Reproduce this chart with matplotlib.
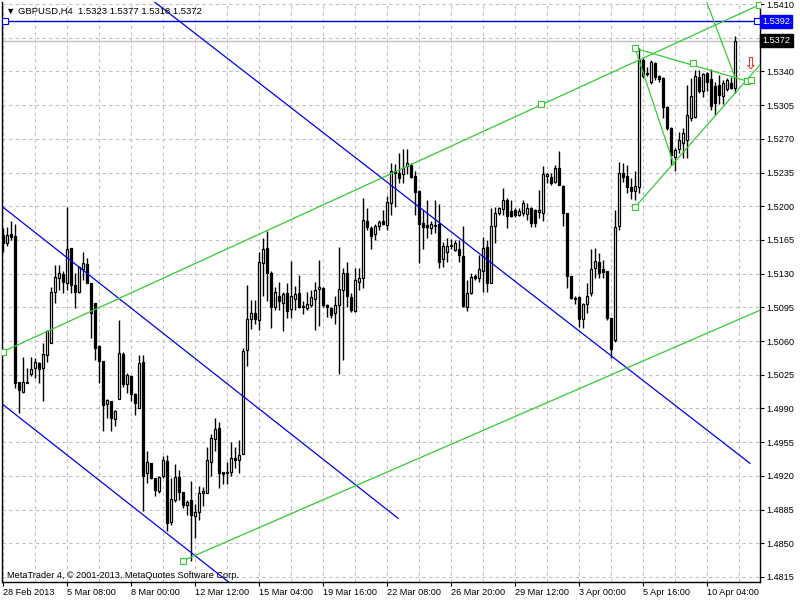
import numpy as np
import matplotlib
matplotlib.use('Agg')
import matplotlib.pyplot as plt
import matplotlib.transforms as mtransforms

plt.rcParams['font.family'] = ['Liberation Sans', 'DejaVu Sans']

# ---- chart data: GBPUSD H4, one value per bar ----
symbol = 'GBPUSD,H4'

opens = [1.5170, 1.5162, 1.5171, 1.5169, 1.5017, 1.5007, 1.5018, 1.5026, 1.5032, 1.5037,
         1.5032, 1.5046, 1.5058, 1.5111, 1.5126, 1.5130, 1.5120, 1.5157, 1.5118, 1.5111,
         1.5135, 1.5140, 1.5120, 1.5100, 1.5055, 1.5039, 1.4995, 1.4998, 1.4979, 1.5000,
         1.5047, 1.5015, 1.5024, 1.5005, 1.4990, 1.5038, 1.4923, 1.4933, 1.4918, 1.4904,
         1.4920, 1.4935, 1.4872, 1.4895, 1.4919, 1.4903, 1.4890, 1.4895, 1.4878, 1.4883,
         1.4902, 1.4902, 1.4934, 1.4958, 1.4970, 1.4924, 1.4923, 1.4924, 1.4939, 1.4936,
         1.4943, 1.5051, 1.5083, 1.5089, 1.5082, 1.5141, 1.5157, 1.5131, 1.5095, 1.5107,
         1.5100, 1.5110, 1.5093, 1.5104, 1.5110, 1.5096, 1.5094, 1.5097, 1.5104, 1.5114,
         1.5115, 1.5097, 1.5094, 1.5089, 1.5097, 1.5113, 1.5131, 1.5106, 1.5091, 1.5121,
         1.5126, 1.5185, 1.5177, 1.5171, 1.5179, 1.5185, 1.5181, 1.5203, 1.5237, 1.5235,
         1.5234, 1.5242, 1.5243, 1.5231, 1.5216, 1.5183, 1.5181, 1.5177, 1.5180, 1.5182,
         1.5145, 1.5152, 1.5159, 1.5155, 1.5156, 1.5148, 1.5095, 1.5110, 1.5128, 1.5126,
         1.5133, 1.5158, 1.5120, 1.5179, 1.5193, 1.5197, 1.5206, 1.5195, 1.5196, 1.5191,
         1.5193, 1.5192, 1.5198, 1.5196, 1.5194, 1.5193, 1.5231, 1.5230, 1.5225, 1.5240,
         1.5221, 1.5193, 1.5128, 1.5105, 1.5106, 1.5083, 1.5098, 1.5110, 1.5136, 1.5142,
         1.5135, 1.5133, 1.5084, 1.5061, 1.5180, 1.5235, 1.5231, 1.5220, 1.5216, 1.5220,
         1.5352, 1.5338, 1.5329, 1.5349, 1.5335, 1.5333, 1.5303, 1.5281, 1.5251, 1.5259,
         1.5266, 1.5269, 1.5292, 1.5293, 1.5334, 1.5320, 1.5338, 1.5332, 1.5325, 1.5326,
         1.5315, 1.5322, 1.5328, 1.5323]

highs = [1.5177, 1.5178, 1.5185, 1.5182, 1.5017, 1.5043, 1.5032, 1.5043, 1.5042, 1.5038,
         1.5058, 1.5072, 1.5116, 1.5139, 1.5139, 1.5133, 1.5199, 1.5157, 1.5131, 1.5138,
         1.5153, 1.5146, 1.5120, 1.5100, 1.5056, 1.5039, 1.5000, 1.4998, 1.4988, 1.5082,
         1.5049, 1.5027, 1.5024, 1.5006, 1.5046, 1.5046, 1.4946, 1.4933, 1.4918, 1.4920,
         1.4941, 1.4942, 1.4918, 1.4932, 1.4926, 1.4903, 1.4895, 1.4915, 1.4891, 1.4909,
         1.4908, 1.4950, 1.4964, 1.4980, 1.4976, 1.4924, 1.4934, 1.4955, 1.4950, 1.4957,
         1.5053, 1.5118, 1.5103, 1.5103, 1.5152, 1.5167, 1.5174, 1.5133, 1.5116, 1.5121,
         1.5111, 1.5120, 1.5143, 1.5117, 1.5129, 1.5102, 1.5111, 1.5113, 1.5121, 1.5144,
         1.5116, 1.5099, 1.5095, 1.5107, 1.5158, 1.5136, 1.5142, 1.5110, 1.5136, 1.5136,
         1.5209, 1.5198, 1.5180, 1.5182, 1.5186, 1.5196, 1.5211, 1.5245, 1.5244, 1.5255,
         1.5259, 1.5259, 1.5245, 1.5237, 1.5217, 1.5196, 1.5206, 1.5185, 1.5206, 1.5202,
         1.5163, 1.5167, 1.5166, 1.5165, 1.5165, 1.5180, 1.5123, 1.5131, 1.5130, 1.5149,
         1.5168, 1.5165, 1.5198, 1.5199, 1.5199, 1.5219, 1.5209, 1.5206, 1.5198, 1.5198,
         1.5206, 1.5203, 1.5199, 1.5197, 1.5217, 1.5242, 1.5235, 1.5235, 1.5243, 1.5257,
         1.5222, 1.5193, 1.5128, 1.5107, 1.5107, 1.5100, 1.5120, 1.5156, 1.5157, 1.5151,
         1.5144, 1.5133, 1.5084, 1.5196, 1.5246, 1.5245, 1.5243, 1.5229, 1.5237, 1.5364,
         1.5354, 1.5345, 1.5352, 1.5350, 1.5336, 1.5334, 1.5304, 1.5282, 1.5261, 1.5277,
         1.5281, 1.5326, 1.5333, 1.5341, 1.5341, 1.5338, 1.5339, 1.5343, 1.5329, 1.5336,
         1.5331, 1.5333, 1.5334, 1.5377]

lows = [1.5152, 1.5159, 1.5165, 1.5011, 1.4985, 1.5006, 1.5016, 1.5024, 1.5022, 1.5016,
        1.4998, 1.5038, 1.5058, 1.5100, 1.5113, 1.5110, 1.5113, 1.5110, 1.5094, 1.5110,
        1.5123, 1.5120, 1.5063, 1.5040, 1.5016, 1.4967, 1.4980, 1.4967, 1.4972, 1.5000,
        1.5012, 1.5006, 1.4998, 1.4983, 1.4990, 1.4884, 1.4913, 1.4917, 1.4899, 1.4902,
        1.4918, 1.4863, 1.4869, 1.4893, 1.4895, 1.4887, 1.4879, 1.4832, 1.4855, 1.4874,
        1.4889, 1.4902, 1.4920, 1.4946, 1.4907, 1.4912, 1.4912, 1.4920, 1.4928, 1.4923,
        1.4943, 1.5034, 1.5073, 1.5078, 1.5071, 1.5107, 1.5102, 1.5074, 1.5092, 1.5092,
        1.5070, 1.5084, 1.5084, 1.5092, 1.5094, 1.5088, 1.5092, 1.5095, 1.5071, 1.5076,
        1.5095, 1.5085, 1.5084, 1.5078, 1.5026, 1.5040, 1.5095, 1.5090, 1.5090, 1.5113,
        1.5115, 1.5175, 1.5156, 1.5165, 1.5175, 1.5181, 1.5175, 1.5191, 1.5199, 1.5224,
        1.5224, 1.5234, 1.5229, 1.5191, 1.5141, 1.5156, 1.5167, 1.5171, 1.5172, 1.5136,
        1.5137, 1.5142, 1.5156, 1.5154, 1.5142, 1.5095, 1.5091, 1.5109, 1.5123, 1.5121,
        1.5111, 1.5111, 1.5120, 1.5162, 1.5191, 1.5191, 1.5177, 1.5189, 1.5189, 1.5190,
        1.5190, 1.5186, 1.5178, 1.5178, 1.5188, 1.5185, 1.5224, 1.5222, 1.5224, 1.5222,
        1.5180, 1.5115, 1.5104, 1.5099, 1.5075, 1.5074, 1.5089, 1.5107, 1.5126, 1.5126,
        1.5126, 1.5082, 1.5042, 1.5059, 1.5175, 1.5225, 1.5214, 1.5208, 1.5206, 1.5214,
        1.5333, 1.5335, 1.5327, 1.5331, 1.5329, 1.5292, 1.5279, 1.5243, 1.5237, 1.5255,
        1.5250, 1.5250, 1.5289, 1.5292, 1.5318, 1.5313, 1.5320, 1.5300, 1.5295, 1.5306,
        1.5306, 1.5320, 1.5322, 1.5318]

closes = [1.5162, 1.5170, 1.5168, 1.5016, 1.5009, 1.5017, 1.5016, 1.5031, 1.5038, 1.5031,
          1.5047, 1.5070, 1.5111, 1.5127, 1.5131, 1.5121, 1.5156, 1.5118, 1.5111, 1.5137,
          1.5141, 1.5120, 1.5089, 1.5053, 1.5039, 1.4994, 1.4999, 1.4980, 1.4987, 1.5048,
          1.5015, 1.5025, 1.5005, 1.4996, 1.5037, 1.4920, 1.4934, 1.4918, 1.4905, 1.4919,
          1.4937, 1.4871, 1.4896, 1.4919, 1.4903, 1.4890, 1.4893, 1.4879, 1.4883, 1.4902,
          1.4904, 1.4936, 1.4959, 1.4969, 1.4923, 1.4922, 1.4924, 1.4939, 1.4936, 1.4942,
          1.5050, 1.5083, 1.5089, 1.5083, 1.5142, 1.5156, 1.5131, 1.5095, 1.5111, 1.5102,
          1.5109, 1.5091, 1.5107, 1.5109, 1.5095, 1.5095, 1.5099, 1.5106, 1.5113, 1.5116,
          1.5097, 1.5095, 1.5087, 1.5097, 1.5114, 1.5131, 1.5107, 1.5092, 1.5123, 1.5125,
          1.5186, 1.5178, 1.5169, 1.5179, 1.5184, 1.5182, 1.5204, 1.5237, 1.5235, 1.5229,
          1.5240, 1.5245, 1.5230, 1.5215, 1.5182, 1.5178, 1.5178, 1.5182, 1.5181, 1.5142,
          1.5159, 1.5159, 1.5160, 1.5162, 1.5149, 1.5096, 1.5110, 1.5127, 1.5125, 1.5135,
          1.5157, 1.5120, 1.5180, 1.5193, 1.5198, 1.5207, 1.5190, 1.5190, 1.5191, 1.5195,
          1.5203, 1.5198, 1.5183, 1.5183, 1.5196, 1.5234, 1.5234, 1.5224, 1.5240, 1.5222,
          1.5193, 1.5128, 1.5105, 1.5104, 1.5083, 1.5099, 1.5107, 1.5135, 1.5143, 1.5131,
          1.5132, 1.5084, 1.5052, 1.5178, 1.5235, 1.5230, 1.5220, 1.5216, 1.5221, 1.5352,
          1.5335, 1.5337, 1.5350, 1.5334, 1.5332, 1.5303, 1.5281, 1.5253, 1.5258, 1.5269,
          1.5276, 1.5295, 1.5315, 1.5335, 1.5320, 1.5337, 1.5329, 1.5304, 1.5307, 1.5316,
          1.5328, 1.5331, 1.5323, 1.5372]

time_labels = ['28 Feb 2013', '5 Mar 08:00', '8 Mar 00:00', '12 Mar 12:00', '15 Mar 04:00',
               '19 Mar 16:00', '22 Mar 08:00', '26 Mar 20:00', '29 Mar 12:00', '3 Apr 00:00',
               '5 Apr 16:00', '10 Apr 04:00']
bars_per_label = 16

price_levels = [1.5410, 1.5375, 1.5340, 1.5305, 1.5270, 1.5235, 1.5200, 1.5165, 1.5130,
                1.5095, 1.5060, 1.5025, 1.4990, 1.4955, 1.4920, 1.4885, 1.4850, 1.4815]

hline_level = 1.5392

# drawn objects: (bar index, price) anchor points
blue_lines = [([37.0, 186.75], [1.5415, 1.4933]),
              ([0.0, 98.75], [1.5199, 1.4876]),
              ([0.0, 60.0], [1.4994, 1.4798])]
green_lines = [([0.0, 189.0], [1.5049, 1.5409]),
               ([45.0, 189.25], [1.4832, 1.5092]),
               ([158.0, 186.0], [1.5364, 1.5330]),
               ([158.0, 167.75], [1.5364, 1.5243]),
               ([158.0, 189.25], [1.5199, 1.5347]),
               ([175.75, 183.0], [1.5414, 1.5334])]
green_points_x = [0.0, 134.5, 189.0, 45.0, 158.0, 172.5, 186.0, 187.0, 158.0]
green_points_y = [1.5049, 1.5306, 1.5409, 1.4832, 1.5364, 1.5349, 1.5330, 1.5331, 1.5199]
arrow_pos = (186.75, 1.5348)

# ---- figure ----
fig = plt.figure(figsize=(8, 6), dpi=100)
ax = fig.add_axes([2 / 800, 18 / 600, 758 / 800, 580 / 600])
ax.set_xlim(-0.25, 189.25)
ax.set_ylim(1.48098, 1.54121)

idx = np.arange(len(opens))
o = np.array(opens)
c = np.array(closes)
up = c >= o

ax.vlines(idx, lows, highs, colors='black', linewidth=1, zorder=3)
body_h = np.maximum(np.abs(c - o), 0.00003)
ax.bar(idx, body_h, bottom=np.minimum(o, c), width=0.5,
       color=np.where(up, 'white', 'black'), edgecolor='black', linewidth=0.9, zorder=4)

# bid line and horizontal line object
ax.axhline(closes[-1], color='#c0c0c0', lw=1, zorder=2)
ax.plot([0.5, 188.5], [hline_level, hline_level], color='#0000dd', lw=1, zorder=5)
ax.plot([0.5, 188.5], [hline_level, hline_level], 's', ms=4, mfc='white', mec='#0000dd', mew=0.8, zorder=6)

for xs, ys in blue_lines:
    ax.plot(xs, ys, color='#0000ee', lw=0.9, zorder=5)
for xs, ys in green_lines:
    ax.plot(xs, ys, color='#33cc33', lw=0.9, zorder=5)
ax.plot(green_points_x, green_points_y, 's', ms=4, mfc='white', mec='#33cc33', mew=0.8, zorder=6)

ax.text(arrow_pos[0], arrow_pos[1], '\u21e9', color='red', fontsize=12, ha='center', va='center',
        family='DejaVu Sans', zorder=7)

# axes / grid
ax.set_xticks(idx[::bars_per_label][:len(time_labels)])
ax.set_xticklabels(time_labels, fontsize=6.6, ha='left')
ax.set_xticks(np.arange(0, 190, 8), minor=True)
ax.yaxis.tick_right()
ax.set_yticks(price_levels)
ax.set_yticklabels(['' if abs(p - 1.5375) < 1e-6 else f'{p:.4f}' for p in price_levels], fontsize=6.6)
ax.tick_params(axis='both', which='major', length=3, width=0.8, pad=1.5, colors='black')
ax.tick_params(axis='x', which='minor', length=0)
ax.grid(True, which='both', color='#c0c0c0', linestyle=(0, (3, 3)), linewidth=0.8, zorder=0)
ax.set_axisbelow(True)
for side in ['left', 'bottom', 'right']:
    ax.spines[side].set_linewidth(1)
    ax.spines[side].set_color('black')
ax.spines['top'].set_visible(False)

# price boxes on the right axis
blend = mtransforms.blended_transform_factory(ax.transAxes, ax.transData)
ax.text(1.003, hline_level, f'{hline_level:.4f}', transform=blend, color='white', fontsize=6.6,
        ha='left', va='center', clip_on=False, zorder=10,
        bbox=dict(boxstyle='square,pad=0.25', fc='#0000ff', ec='#0000ff'))
ax.text(1.003, closes[-1], f'{closes[-1]:.4f}', transform=blend, color='white', fontsize=6.6,
        ha='left', va='center', clip_on=False, zorder=10,
        bbox=dict(boxstyle='square,pad=0.25', fc='black', ec='black'))

header = f'\u25bc {symbol}  {opens[-1]:.4f} {highs[-1]:.4f} {lows[-1]:.4f} {closes[-1]:.4f}'
fig.text(6 / 800, 1 - 11 / 600, header, fontsize=6.8, ha='left', va='center')
fig.text(7 / 800, 1 - 575 / 600, 'MetaTrader 4, \u00a9 2001-2013, MetaQuotes Software Corp.',
         fontsize=6.6, ha='left', va='center')

fig.savefig('out.png', dpi=100)
